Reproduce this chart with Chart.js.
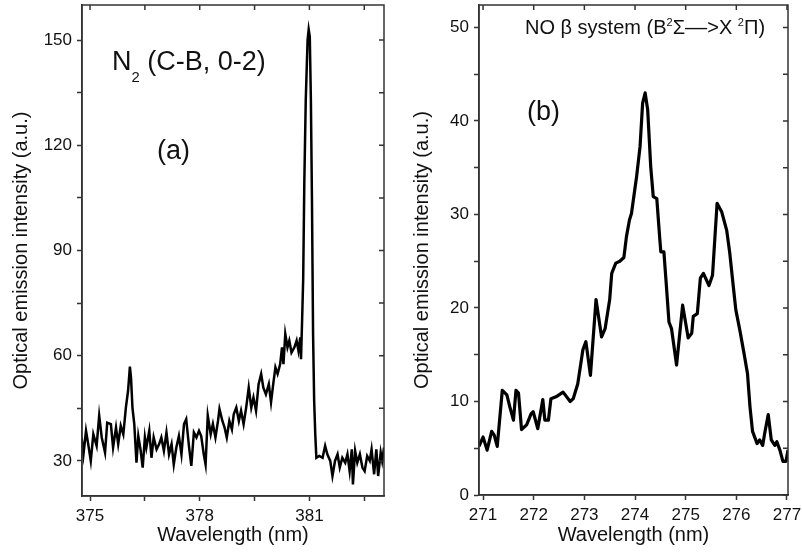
<!DOCTYPE html>
<html>
<head>
<meta charset="utf-8">
<script src="https://cdn.jsdelivr.net/npm/chart.js@4.4.1/dist/chart.umd.min.js"></script>
<style>
  body { margin: 0; background: #fff; }
  #wrap { position: relative; width: 802px; height: 556px; }
  canvas { position: absolute; top: 0; }
  #n2Chart { left: 0; }
  #noChart { left: 400px; }
</style>
</head>
<body>
<div id="wrap">
  <canvas id="n2Chart" width="400" height="556"></canvas>
  <canvas id="noChart" width="402" height="556"></canvas>
</div>
<script>
// ---- panel (a): N2 (C-B, 0-2) ----
const n2Wavelength = [374.77,374.82,374.89,374.95,375.02,375.09,375.18,375.25,375.32,375.41,375.47,375.57,375.63,375.71,375.77,375.84,375.91,375.98,376.04,376.09,376.12,376.16,376.21,376.27,376.32,376.38,376.44,376.50,376.54,376.62,376.68,376.74,376.82,376.89,376.95,377.02,377.09,377.16,377.23,377.29,377.36,377.43,377.50,377.57,377.63,377.71,377.77,377.84,377.91,377.98,378.04,378.11,378.16,378.22,378.30,378.36,378.43,378.50,378.54,378.62,378.68,378.74,378.81,378.88,378.93,379.00,379.07,379.13,379.20,379.27,379.34,379.41,379.47,379.54,379.61,379.68,379.74,379.81,379.89,379.95,380.01,380.07,380.13,380.20,380.25,380.29,380.34,380.40,380.45,380.51,380.59,380.65,380.70,380.75,380.77,380.80,380.83,380.86,380.90,380.95,380.98,381.01,381.04,381.07,381.10,381.13,381.16,381.19,381.27,381.36,381.43,381.49,381.57,381.63,381.70,381.77,381.83,381.90,381.98,382.04,382.10,382.16,382.19,382.25,382.31,382.38,382.45,382.51,382.58,382.65,382.70,382.77,382.83,382.88,382.95,382.99,383.04];
const n2Intensity = [36.7,31.9,38.6,34.8,30.0,37.6,34.3,42.9,36.7,32.4,40.9,40.5,33.8,39.5,34.8,40.0,37.6,45.2,50.0,56.9,53.8,45.2,40.5,29.5,37.1,33.3,28.1,36.7,33.8,38.6,30.9,36.7,33.3,34.8,36.7,32.9,38.1,31.9,34.8,29.0,33.8,37.1,31.9,40.5,41.9,33.8,28.6,38.1,36.7,38.6,37.1,31.9,29.0,42.9,37.6,40.5,36.7,41.4,44.8,41.4,39.5,36.7,41.4,39.0,43.3,45.2,41.4,44.3,40.5,45.2,50.9,45.2,48.1,44.3,51.9,54.8,50.9,49.0,51.9,46.7,51.9,56.7,54.8,57.6,62.4,57.6,66.2,62.4,64.3,60.9,62.4,64.3,61.4,65.2,59.0,70.0,82.0,109.0,133.0,150.0,153.0,151.0,133.0,104.0,66.2,47.1,37.6,30.9,31.4,30.9,34.3,31.9,30.0,25.7,30.0,31.9,28.1,30.9,29.5,31.9,27.1,33.3,23.3,32.9,29.5,31.9,28.1,27.1,31.4,30.0,33.3,26.2,33.3,25.7,32.4,30.0,33.8];
const n2XTicks = [375, 376.5, 378, 379.5, 381, 382.5];
const n2XLabels = [375, 378, 381];
const n2YTicks = [30, 45, 60, 75, 90, 105, 120, 135, 150];
const n2YLabels = [30, 60, 90, 120, 150];

// ---- panel (b): NO beta system ----
const noWavelength = [270.92,271.00,271.08,271.17,271.22,271.28,271.38,271.47,271.53,271.60,271.65,271.70,271.76,271.86,271.95,271.99,272.08,272.18,272.22,272.29,272.34,272.44,272.58,272.72,272.78,272.87,272.97,273.03,273.12,273.23,273.34,273.41,273.50,273.54,273.62,273.70,273.78,273.83,273.89,273.93,274.03,274.10,274.15,274.20,274.25,274.31,274.36,274.43,274.49,274.51,274.57,274.62,274.67,274.72,274.82,274.94,275.05,275.12,275.15,275.23,275.29,275.35,275.46,275.53,275.62,275.71,275.81,275.87,275.94,275.99,276.07,276.15,276.22,276.27,276.32,276.41,276.46,276.52,276.56,276.63,276.69,276.76,276.80,276.86,276.92,276.98,277.02];
const noIntensity = [5.2,6.2,4.8,6.8,6.4,5.2,11.2,10.7,9.4,8.0,11.2,10.9,7.0,7.5,8.7,8.9,7.1,10.2,8.0,8.0,10.3,10.5,11.0,10.0,10.3,11.9,15.5,16.4,12.8,20.9,16.9,17.8,20.9,23.7,24.8,25.0,25.4,27.6,29.4,30.1,34.0,37.3,41.9,43.0,41.2,35.1,31.9,31.7,27.3,26.0,26.0,22.3,18.5,17.8,13.9,20.3,16.8,17.3,19.1,19.4,23.2,23.7,22.4,23.5,31.2,30.3,28.3,25.9,22.3,19.8,17.6,15.2,13.0,9.4,6.8,5.5,5.9,5.3,6.6,8.6,5.9,5.3,5.7,4.8,3.6,3.6,4.8];
const noXTicks = [271, 272, 273, 274, 275, 276, 277];
const noYTicks = [0, 5, 10, 15, 20, 25, 30, 35, 40, 45, 50];
const noYLabels = [0, 10, 20, 30, 40, 50];

Chart.defaults.font.family = '"Liberation Sans", Arial, sans-serif';
Chart.defaults.color = '#111';

// box round the plot with inward ticks on top and right
const frameTicks = {
  id: 'frameTicks',
  afterDraw(chart) {
    const {ctx, chartArea: a, scales: {x, y}} = chart;
    ctx.save();
    ctx.strokeStyle = '#333';
    ctx.lineWidth = 1.5;
    ctx.strokeRect(a.left, a.top, a.right - a.left, a.bottom - a.top);
    ctx.beginPath();
    x.ticks.forEach(t => {
      const px = x.getPixelForValue(t.value);
      ctx.moveTo(px, a.top); ctx.lineTo(px, a.top + 5);
    });
    y.ticks.forEach(t => {
      const py = y.getPixelForValue(t.value);
      ctx.moveTo(a.right, py); ctx.lineTo(a.right - 5, py);
    });
    ctx.stroke();
    ctx.restore();
  }
};

// text with sub/superscripts
const richText = {
  id: 'richText',
  afterDraw(chart, args, opts) {
    const ctx = chart.ctx;
    ctx.save();
    ctx.fillStyle = '#111';
    ctx.textBaseline = 'alphabetic';
    (opts.items || []).forEach(item => {
      let cx = item.x;
      item.parts.forEach(p => {
        const small = p.sub || p.sup;
        const size = small ? item.size * 0.55 : item.size;
        ctx.font = size + 'px "Liberation Sans", Arial, sans-serif';
        const dy = p.sub ? item.size * 0.45 : p.sup ? -item.size * 0.42 : 0;
        ctx.fillText(p.t, cx, item.y + dy);
        cx += ctx.measureText(p.t).width;
      });
    });
    ctx.restore();
  }
};

function makeScales(o) {
  return {
    x: {
      type: 'linear', min: o.xMin, max: o.xMax,
      afterBuildTicks: s => { s.ticks = o.xTicks.map(v => ({value: v})); },
      afterFit: s => { s.height = o.xHeight; s.paddingLeft = 0; s.paddingRight = 0; },
      ticks: {
        autoSkip: false, maxRotation: 0, padding: 5,
        font: {size: 17},
        callback: v => o.xLabels.includes(v) ? String(v) : ''
      },
      grid: {drawOnChartArea: false, tickLength: 5, color: '#333', tickWidth: 1.5},
      border: {color: '#333', width: 1.5},
      title: {display: true, text: 'Wavelength (nm)', font: {size: 20}, padding: {top: 0, bottom: 9}}
    },
    y: {
      type: 'linear', min: o.yMin, max: o.yMax,
      afterBuildTicks: s => { s.ticks = o.yTicks.map(v => ({value: v})); },
      afterFit: s => { s.width = o.yWidth; s.paddingTop = 0; s.paddingBottom = 0; },
      ticks: {
        autoSkip: false, padding: 5,
        font: {size: 17},
        callback: v => o.yLabels.includes(v) ? String(v) : ''
      },
      grid: {drawOnChartArea: false, tickLength: 5, color: '#333', tickWidth: 1.5},
      border: {color: '#333', width: 1.5},
      title: {display: true, text: 'Optical emission intensity (a.u.)', font: {size: 20}, padding: {top: o.yTitlePad, bottom: 0}}
    }
  };
}

new Chart('n2Chart', {
  type: 'line',
  data: {
    datasets: [{
      data: n2Wavelength.map((w, i) => ({x: w, y: n2Intensity[i]})),
      borderColor: '#000',
      borderWidth: 2.5,
      pointRadius: 0,
      tension: 0
    }]
  },
  options: {
    responsive: false, animation: false, devicePixelRatio: 1,
    layout: {padding: {top: 5, right: 16, left: 0, bottom: 0}},
    plugins: {
      legend: {display: false}, tooltip: {enabled: false},
      richText: {items: [
        {x: 112, y: 70, size: 27, parts: [{t: 'N'}, {t: '2', sub: true}, {t: ' (C-B, 0-2)'}]},
        {x: 157, y: 159, size: 27, parts: [{t: '(a)'}]}
      ]}
    },
    scales: makeScales({
      xMin: 374.78, xMax: 383.04, xTicks: n2XTicks, xLabels: n2XLabels, xHeight: 60,
      yMin: 20, yMax: 160, yTicks: n2YTicks, yLabels: n2YLabels, yWidth: 82, yTitlePad: 9
    })
  },
  plugins: [frameTicks, richText]
});

new Chart('noChart', {
  type: 'line',
  data: {
    datasets: [{
      data: noWavelength.map((w, i) => ({x: w, y: noIntensity[i]})),
      borderColor: '#000',
      borderWidth: 3.2,
      pointRadius: 0,
      tension: 0,
      borderJoinStyle: 'round'
    }]
  },
  options: {
    responsive: false, animation: false, devicePixelRatio: 1,
    layout: {padding: {top: 5, right: 14, left: 0, bottom: 0}},
    plugins: {
      legend: {display: false}, tooltip: {enabled: false},
      richText: {items: [
        {x: 125, y: 34, size: 20, parts: [{t: 'NO \u03b2 system (B'}, {t: '2', sup: true}, {t: '\u03a3\u2013\u2013>X '}, {t: '2', sup: true}, {t: '\u03a0)'}]},
        {x: 127, y: 120, size: 27, parts: [{t: '(b)'}]}
      ]}
    },
    scales: makeScales({
      xMin: 270.92, xMax: 277.02, xTicks: noXTicks, xLabels: noXTicks, xHeight: 61,
      yMin: 0, yMax: 52.4, yTicks: noYTicks, yLabels: noYLabels, yWidth: 79, yTitlePad: 10
    })
  },
  plugins: [frameTicks, richText]
});
</script>
</body>
</html>
